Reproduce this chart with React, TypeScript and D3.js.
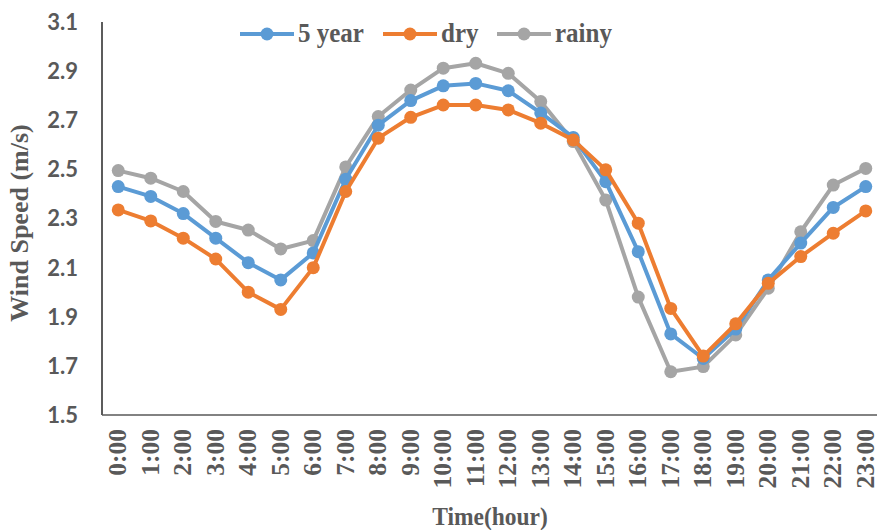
import React from "react";
import * as d3 from "d3";

const hours = ["0:00","1:00","2:00","3:00","4:00","5:00","6:00","7:00","8:00","9:00","10:00","11:00","12:00","13:00","14:00","15:00","16:00","17:00","18:00","19:00","20:00","21:00","22:00","23:00"];
const fiveYear = [2.43,2.39,2.32,2.22,2.12,2.05,2.16,2.46,2.68,2.78,2.84,2.85,2.82,2.73,2.63,2.45,2.165,1.83,1.73,1.85,2.05,2.20,2.345,2.43];
const dry = [2.335,2.29,2.22,2.135,2.00,1.93,2.10,2.41,2.627,2.712,2.762,2.762,2.742,2.688,2.62,2.498,2.281,1.934,1.74,1.871,2.036,2.145,2.24,2.331];
const rainy = [2.495,2.464,2.41,2.288,2.253,2.176,2.21,2.51,2.715,2.823,2.912,2.932,2.891,2.776,2.613,2.375,1.98,1.676,1.697,1.826,2.016,2.246,2.436,2.504];
const yTicks = [1.5,1.7,1.9,2.1,2.3,2.5,2.7,2.9,3.1];
const seriesNames = ["5 year","dry","rainy"];
const seriesColors = ["#5B9BD5","#ED7D31","#A5A5A5"];

export default function App() {
  const W = 877, H = 530;
  const left = 102, top = 22, bottom = 415;
  const band = 32.5;
  const x = d3.scaleBand<string>().domain(hours).range([left, left + band * hours.length]).padding(0);
  const y = d3.scaleLinear().domain([1.5, 3.1]).range([bottom, top]);
  const cx = (h: string) => (x(h) as number) + x.bandwidth() / 2;
  const line = d3.line<number>().x((_, i) => cx(hours[i])).y(d => y(d));
  const data = [fiveYear, dry, rainy];
  const drawOrder = [2, 0, 1];
  const legendX = [240, 383, 497];
  const serif = "'Liberation Serif', 'Times New Roman', serif";
  const sans = "Lato, 'Liberation Sans', sans-serif";
  return (
    <svg width={W} height={H} style={{ position: "absolute", left: 0, top: 0, background: "#fff" }}>
      {yTicks.map(t => (
        <text key={t} x={78} y={y(t)} dy="0.36em" textAnchor="end" fontFamily={sans} fontWeight="bold" fontSize={22} fill="#595959">{t.toFixed(1)}</text>
      ))}
      {hours.map(h => (
        <text key={h} transform={`translate(${cx(h) + 8},${429}) rotate(-90)`} textAnchor="end" fontFamily={serif} fontWeight="bold" fontSize={25.5} fill="#595959">{h}</text>
      ))}
      <line x1={left} x2={left} y1={top} y2={bottom} stroke="#262626" strokeWidth={1.5} />
      <line x1={left} x2={W} y1={bottom} y2={bottom} stroke="#595959" strokeWidth={1.5} />
      {drawOrder.map(si => (
        <g key={si}>
          <path d={line(data[si]) || ""} fill="none" stroke={seriesColors[si]} strokeWidth={4} strokeLinejoin="round" />
          {data[si].map((v, i) => (
            <circle key={i} cx={cx(hours[i])} cy={y(v)} r={6.5} fill={seriesColors[si]} />
          ))}
        </g>
      ))}
      {seriesNames.map((n, i) => (
        <g key={n}>
          <line x1={legendX[i]} x2={legendX[i] + 54} y1={34} y2={34} stroke={seriesColors[i]} strokeWidth={4} />
          <circle cx={legendX[i] + 27} cy={34} r={6.5} fill={seriesColors[i]} />
          <text transform={`translate(${legendX[i] + 58},${42}) scale(1,1.08)`} fontFamily={serif} fontWeight="bold" fontSize={25} fill="#595959">{n}</text>
        </g>
      ))}
      <text transform={`translate(28,${223}) rotate(-90)`} textAnchor="middle" fontFamily={serif} fontWeight="bold" fontSize={26} fill="#595959">Wind Speed (m/s)</text>
      <text transform={`translate(490,${525}) scale(1,1.08)`} textAnchor="middle" fontFamily={serif} fontWeight="bold" fontSize={23.5} fill="#595959">Time(hour)</text>
    </svg>
  );
}
